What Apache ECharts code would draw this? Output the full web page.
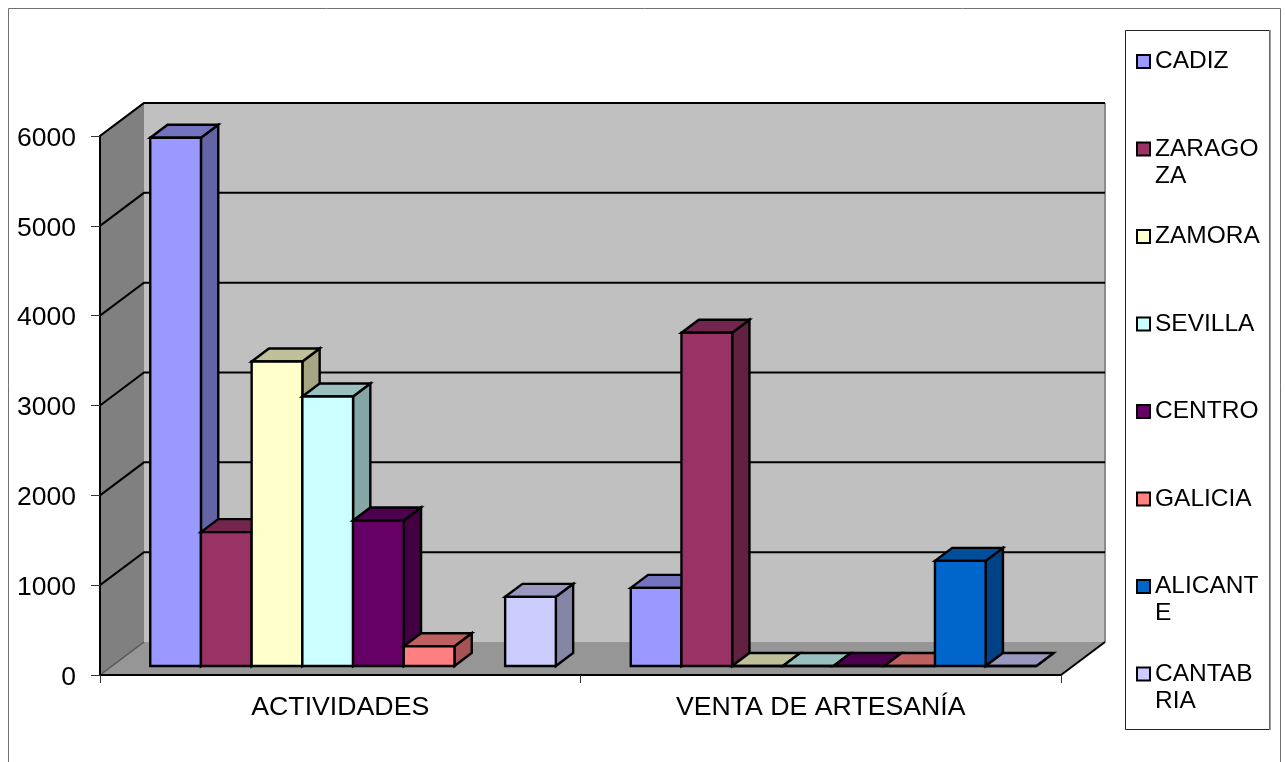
<!DOCTYPE html>
<html>
<head>
<meta charset="utf-8">
<style>html,body{margin:0;padding:0;background:#fff}#c{width:1285px;height:762px}</style>
<script src="https://cdn.jsdelivr.net/npm/echarts@6/dist/echarts.min.js"></script>
</head>
<body>
<div id="c"></div>
<script>
const categories = ['ACTIVIDADES', 'VENTA DE ARTESANÍA'];
const yTicks = [0, 1000, 2000, 3000, 4000, 5000, 6000];
const seriesNames = ['CADIZ', 'ZARAGOZA', 'ZAMORA', 'SEVILLA', 'CENTRO', 'GALICIA', 'ALICANTE', 'CANTABRIA'];
const legendLabels = ['CADIZ', 'ZARAGO\nZA', 'ZAMORA', 'SEVILLA', 'CENTRO', 'GALICIA', 'ALICANT\nE', 'CANTAB\nRIA'];
const seriesColors = ['#9999FF', '#993366', '#FFFFCC', '#CCFFFF', '#660066', '#FF8080', '#0066CC', '#CCCCFF'];
const cadiz = [5880, 870];
const zaragoza = [1490, 3710];
const zamora = [3390, 0];
const sevilla = [3000, 0];
const centro = [1620, 0];
const galicia = [220, 0];
const alicante = [null, 1170];
const cantabria = [770, 0];
const seriesValues = [cadiz, zaragoza, zamora, sevilla, centro, galicia, alicante, cantabria];

// 3D projection: offset of the full chart depth, and of the bars inside it
const DEPTH = { x: 44, y: -33 };
const BAR_FRONT = { x: 12.8, y: -9 };
const BAR_DEPTH = { x: 17.3, y: -13 };
const BAR_WIDTH_BANDS = 50.7 / 480.5;

function shade(hex, f) {
  const n = parseInt(hex.slice(1), 16);
  const c = [n >> 16 & 255, n >> 8 & 255, n & 255].map(v => Math.round(v * f));
  return 'rgb(' + c.join(',') + ')';
}
const poly = (points, fill, stroke, w) => ({
  type: 'polygon', shape: { points },
  style: { fill, stroke: stroke || null, lineWidth: w === undefined ? 2.4 : w, lineJoin: 'miter' }
});
const line = (points, stroke, w) => ({
  type: 'polyline', shape: { points },
  style: { fill: null, stroke, lineWidth: w }
});

function renderWalls(params, api) {
  const yMin = yTicks[0], yMax = yTicks[yTicks.length - 1];
  const x0 = api.coord([0, yMin])[0] - api.size([1, 0])[0] / 2;
  const x1 = x0 + api.size([1, 0])[0] * categories.length;
  const y0 = api.coord([0, yMin])[1];
  const y1 = api.coord([0, yMax])[1];
  const b = (x, y) => [x + DEPTH.x, y + DEPTH.y];
  const children = [
    poly([b(x0, y1), b(x1, y1), b(x1, y0), b(x0, y0)], '#C0C0C0'),
    poly([[x0, y0], [x0, y1], b(x0, y1), b(x0, y0)], '#808080'),
    poly([[x0, y0], [x1, y0], b(x1, y0), b(x0, y0)], '#969696'),
    line([b(x1, y1), b(x1, y0)], '#8c8c8c', 2),
    line([[x0, y1], b(x0, y1)], '#555555', 2),
    line([[x0, y0], b(x0, y0)], '#555555', 1.5),
    line([[x1, y0], b(x1, y0)], '#000', 2)
  ];
  yTicks.slice(1).forEach(t => {
    const y = api.coord([0, t])[1];
    children.push(line([[x0, y], b(x0, y), b(x1, y)], '#000', 2));
  });
  return { type: 'group', children };
}

function renderBar(idx) {
  return function (params, api) {
    const v = api.value(1);
    if (v === null || isNaN(v)) return null;
    const band = api.size([1, 0])[0];
    const w = band * BAR_WIDTH_BANDS;
    const c = api.coord([api.value(0), 0]);
    const top = api.coord([api.value(0), v])[1] + BAR_FRONT.y;
    const bot = c[1] + BAR_FRONT.y;
    const l = c[0] - w * seriesNames.length / 2 + idx * w + BAR_FRONT.x;
    const r = l + w;
    const dx = BAR_DEPTH.x, dy = BAR_DEPTH.y;
    const col = seriesColors[idx];
    return {
      type: 'group',
      children: [
        poly([[r, top], [r + dx, top + dy], [r + dx, bot + dy], [r, bot]], shade(col, 0.65), '#000'),
        poly([[l, top], [l + dx, top + dy], [r + dx, top + dy], [r, top]], shade(col, 0.75), '#000'),
        poly([[l, top], [r, top], [r, bot], [l, bot]], col, '#000')
      ]
    };
  };
}

const series = [{
  type: 'custom', name: 'walls', z: 1, silent: true,
  renderItem: renderWalls, data: [[0, 0]], encode: { x: 0, y: 1 }
}].concat(seriesNames.map((name, i) => ({
  type: 'custom', name, z: 2 + i, silent: true,
  itemStyle: { color: seriesColors[i] },
  renderItem: renderBar(i),
  encode: { x: 0, y: 1 },
  data: categories.map((c, k) => [k, seriesValues[i][k]])
})));

const FONT = '"Liberation Sans", Arial, sans-serif';
const chart = echarts.init(document.getElementById('c'), null, { renderer: 'canvas' });
chart.setOption({
  animation: false,
  backgroundColor: '#fff',
  grid: { left: 100, top: 136, width: 961, height: 539 },
  xAxis: {
    type: 'category', data: categories, z: 30,
    axisLine: { show: true, lineStyle: { color: '#000', width: 2 } },
    axisTick: { show: true, length: 8, alignWithLabel: false, lineStyle: { color: '#333', width: 1 } },
    axisLabel: { color: '#000', fontSize: 26.7, fontFamily: FONT, margin: 19 },
    splitLine: { show: false }
  },
  yAxis: {
    type: 'value', min: 0, max: 6000, interval: 1000, z: 30,
    axisLine: { show: true, lineStyle: { color: '#000', width: 2 } },
    axisTick: { show: true, length: 9, lineStyle: { color: '#333', width: 1 } },
    axisLabel: {
      color: '#000', fontSize: 26.5, fontFamily: FONT, margin: 24,
      formatter: v => '{a|' + v + '}',
      rich: { a: { color: '#000', fontSize: 26.5, fontFamily: FONT, padding: [5, 0, 0, 0] } }
    },
    splitLine: { show: false }
  },
  legend: {
    orient: 'vertical', left: 1136, top: 20, padding: 0,
    selectedMode: false,
    data: seriesNames,
    icon: 'rect', itemWidth: 13, itemHeight: 13, itemGap: 4.5,
    itemStyle: { borderColor: '#000', borderWidth: 2 },
    formatter: name => {
      const t = legendLabels[seriesNames.indexOf(name)];
      return '\n' + t + (t.indexOf('\n') < 0 ? '\n ' : '');
    },
    textStyle: { color: '#000', fontSize: 24.5, fontFamily: FONT, lineHeight: 27, padding: [2, 0, 0, 0] }
  },
  graphic: [
    { type: 'rect', z: -10, silent: true, shape: { x: 8.5, y: 8.5, width: 1272, height: 800 },
      style: { fill: 'none', stroke: '#707070', lineWidth: 1 } },
    { type: 'rect', z: -9, silent: true, shape: { x: 1125.5, y: 30.5, width: 144, height: 699 },
      style: { fill: '#fff', stroke: '#222', lineWidth: 1 } },
    { type: 'line', z: -8, silent: true, shape: { x1: 1270, y1: 30, x2: 1270, y2: 730 },
      style: { stroke: '#808080', lineWidth: 1.5 } }
  ],
  series
});
</script>
</body>
</html>
